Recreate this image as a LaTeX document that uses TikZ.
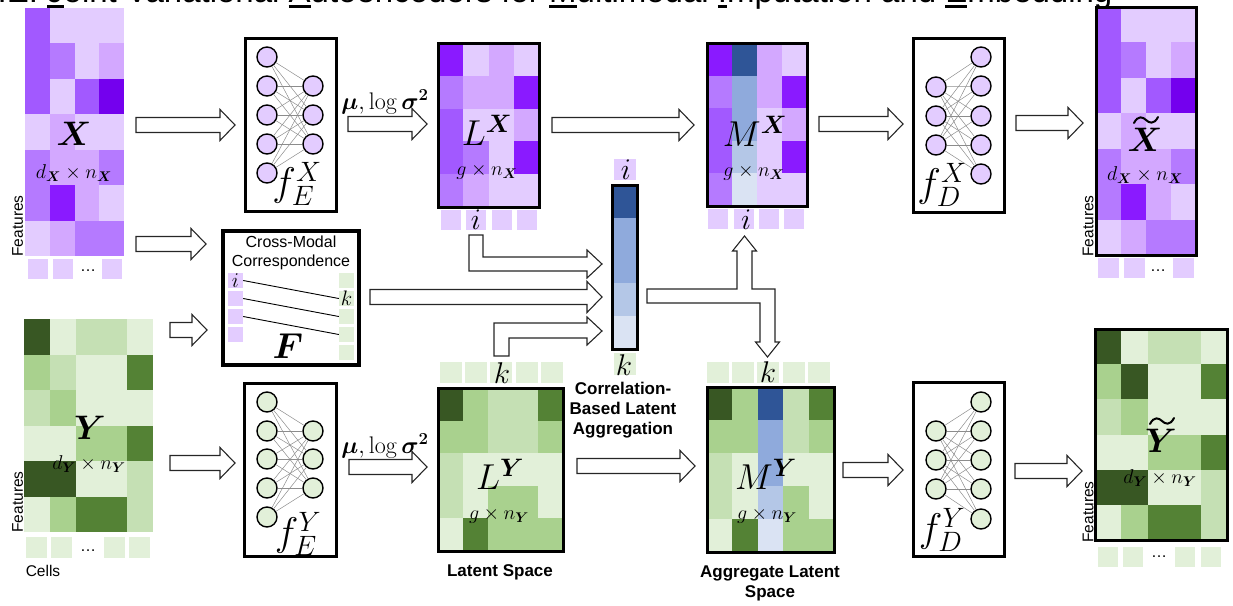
\RequirePackage{fix-cm}
\documentclass[tikz,border=0pt]{standalone}
\usepackage[no-math]{fontspec}
\setmainfont{Liberation Sans}
\usepackage{bm}
\usetikzlibrary{calc}
\definecolor{p1}{HTML}{E3CCFF}
\definecolor{p2}{HTML}{D3A8FF}
\definecolor{p3}{HTML}{B57AFF}
\definecolor{p4}{HTML}{A259FF}
\definecolor{p5}{HTML}{8A1AFF}
\definecolor{p6}{HTML}{7400EE}
\definecolor{g1}{HTML}{E2F0D9}
\definecolor{g2}{HTML}{C5E0B4}
\definecolor{g3}{HTML}{A9D18E}
\definecolor{g4}{HTML}{548235}
\definecolor{g5}{HTML}{385723}
\definecolor{b1}{HTML}{DAE3F3}
\definecolor{b2}{HTML}{B4C7E7}
\definecolor{b3}{HTML}{8FAADC}
\definecolor{b4}{HTML}{2F5597}
\newlength\ulw
\newcommand\myul[1]{\settowidth{\ulw}{#1}\rlap{\rule[-5.5pt]{\ulw}{3pt}}#1}
\newcommand\heatmap[5]{%
  \foreach \row [count=\ri from 0] in {#5} {
    \foreach \cc [count=\ki from 0] in \row {
      \fill[\cc] ({#1+\ki*#3},{#2+\ri*#4}) rectangle ++({#3+0.4},{#4+0.4});
    }
  }}
\newcommand\harrow[3]{\draw[barrow] (#1,{#3-7.5}) -- ({#2-15},{#3-7.5}) -- ({#2-15},{#3-15.5}) -- (#2,#3) -- ({#2-15},{#3+15.5}) -- ({#2-15},{#3+7.5}) -- (#1,{#3+7.5}) -- cycle;}
\newcommand\nnet[6]{%
  \foreach \yy [count=\ii] in {#4} {\node[neuron, fill=#6] (#1a\ii) at (#2,\yy) {};}
  \foreach \yy [count=\jj] in {#5} {\node[neuron, fill=#6] (#1b\jj) at (#3,\yy) {};}
  \foreach \yy [count=\ii] in {#4} {\foreach \zz [count=\jj] in {#5} {\draw[syn] (#1a\ii) -- (#1b\jj);}}
}
\newcommand\tildeat[2]{\draw[line width=2pt, line cap=round] (#1,{#2+7}) .. controls ({#1+4},{#2-1}) and ({#1+9},{#2+1}) .. ({#1+12},{#2+4}) .. controls ({#1+15},{#2+7}) and ({#1+20},{#2+9}) .. ({#1+24},{#2+1});}
\tikzset{
  frame/.style={draw=black, line width=3pt, inner sep=0pt},
  area/.style={inner sep=0pt},
  barrow/.style={draw=black!85, line width=1.1pt, fill=white, line join=miter},
  neuron/.style={circle, draw=black, line width=1.4pt, minimum size=20pt, inner sep=0pt},
  syn/.style={draw=black!45, line width=0.5pt},
  lbl/.style={inner sep=0pt},
  sqp/.style={fill=p1, inner sep=0pt, minimum size=15pt},
  sqg/.style={fill=g1, inner sep=0pt, minimum size=15pt},
  feat/.style={inner sep=0pt, rotate=90, font=\fontsize{15.5}{17}\selectfont},
  bold/.style={inner sep=0pt, align=center, font=\fontsize{17}{20}\selectfont\bfseries},
  dots/.style={inner sep=0pt, anchor=base, font=\fontsize{16}{18}\selectfont},
  idx/.style={inner sep=0pt, font=\fontsize{30}{34}\selectfont},
}
\begin{document}
\begin{tikzpicture}[x=1pt,y=-1pt]
\useasboundingbox (0,0) rectangle (1233,605);
% title (cut off at the top)
\node[anchor=base west, inner sep=0pt, font=\fontsize{33}{38}\selectfont] (title) at (47,2)
  {\llap{JAMIE: }\myul{J}oint Variational \myul{A}utoencoders for \myul{M}ultimodal \myul{I}mputation and \myul{E}mbedding};

% ---------- heatmaps ----------
\heatmap{25}{8}{24.75}{35.43}{{p4,p1,p1,p1},{p4,p3,p1,p2},{p4,p1,p4,p6},{p1,p2,p1,p1},{p3,p2,p2,p3},{p3,p5,p2,p1},{p1,p2,p3,p3}}
\heatmap{1096}{7}{25}{35.43}{{p4,p1,p1,p1},{p4,p3,p1,p2},{p4,p1,p4,p6},{p1,p2,p1,p1},{p3,p2,p2,p3},{p3,p5,p2,p1},{p1,p2,p3,p3}}
\heatmap{24}{319}{25.8}{35.5}{{g5,g1,g2,g2,g1},{g3,g2,g1,g1,g4},{g2,g3,g1,g1,g1},{g1,g1,g3,g3,g4},{g5,g5,g1,g1,g2},{g1,g3,g4,g4,g2}}
\heatmap{1095}{329}{26.4}{35.17}{{g5,g1,g2,g2,g1},{g3,g5,g1,g1,g4},{g2,g3,g1,g1,g1},{g1,g1,g3,g3,g4},{g5,g5,g1,g1,g2},{g1,g3,g4,g4,g2}}
\heatmap{438}{43}{25.25}{32.8}{{p5,p1,p2,p1},{p3,p2,p2,p5},{p4,p1,p1,p2},{p4,p3,p1,p5},{p3,p2,p1,p1}}
\heatmap{707}{43}{25}{32.6}{{p5,b4,p2,p1},{p3,b3,p2,p5},{p4,b3,p1,p2},{p4,b2,p1,p5},{p3,b1,p1,p1}}
\heatmap{438}{388}{25}{32.6}{{g5,g3,g2,g2,g4},{g3,g3,g2,g2,g3},{g2,g1,g1,g1,g1},{g2,g1,g3,g3,g1},{g1,g4,g3,g3,g3}}
\heatmap{707}{387}{25.4}{33}{{g5,g3,b4,g2,g4},{g3,g3,b3,g2,g3},{g2,g1,b3,g1,g1},{g2,g1,b2,g3,g1},{g1,g4,b1,g3,g3}}
\heatmap{612}{185}{25}{32.8}{{b4},{b3},{b3},{b2},{b1}}

% ---------- index squares ----------
\foreach \xx in {28,53,102} \fill[p1] (\xx,259) rectangle ++(20,20);
\foreach \xx in {26,51,104,129} \fill[g1] (\xx,537) rectangle ++(21,21);
\foreach \xx in {1098,1124,1173} \fill[p1] (\xx,258) rectangle ++(21,20);
\foreach \xx in {1098,1123,1175,1201} \fill[g1] (\xx,547) rectangle ++(20,20);
\foreach \xx in {441,466,492,517} \fill[p1] (\xx,210) rectangle ++(20,20);
\foreach \xx in {708,734,759,784} \fill[p1] (\xx,209) rectangle ++(20,20);
\foreach \xx in {440,465,490,516,541} \fill[g1] (\xx,362) rectangle ++(22,21);
\foreach \xx in {707,732,757,783,808} \fill[g1] (\xx,362) rectangle ++(22,21);
\fill[p1] (614,159) rectangle ++(22,21);
\fill[g1] (614,353) rectangle ++(22,22);

% ---------- matrix frames / areas ----------
\node[area, minimum width=99pt, minimum height=248pt] (X) at (74.5,132) {};
\node[area, minimum width=129pt, minimum height=213pt] (Y) at (88.5,425.5) {};
\node[frame, minimum width=101pt, minimum height=164pt] (LX) at (488.5,125) {};
\node[frame, minimum width=100pt, minimum height=163pt] (MX) at (757,124.5) {};
\node[frame, minimum width=125pt, minimum height=163pt] (LY) at (500.5,469.5) {};
\node[frame, minimum width=127pt, minimum height=165pt] (MY) at (770.5,469.5) {};
\node[frame, minimum width=100pt, minimum height=248pt] (Xt) at (1146,131) {};
\node[frame, minimum width=132pt, minimum height=211pt] (Yt) at (1161,434.5) {};
\node[frame, minimum width=25pt, minimum height=164pt] (agg) at (624.5,267) {};

% ---------- networks ----------
\node[frame, minimum width=91pt, minimum height=173pt] (fEX) at (290.5,124.5) {};
\node[frame, minimum width=92pt, minimum height=173pt] (fEY) at (290,469.5) {};
\node[frame, minimum width=91pt, minimum height=174pt] (fDX) at (958.5,125) {};
\node[frame, minimum width=91pt, minimum height=174pt] (fDY) at (958.5,469) {};
\nnet{ex}{267}{313}{57,86,115,144,173}{86,115,144}{p1}
\nnet{ey}{267}{313}{402,431,459,488,517}{431,459,488}{g1}
\nnet{dx}{936}{981}{87,116,145}{57,86,116,145,174}{p1}
\nnet{dy}{936}{981}{431,460,489}{402,431,460,489,519}{g1}
\node[lbl, font=\fontsize{40}{44}\selectfont] (lfex) at (297,184) {$f_E^X$};
\node[lbl, font=\fontsize{40}{44}\selectfont] (lfey) at (298,534) {$f_E^Y$};
\node[lbl, font=\fontsize{40}{44}\selectfont] (lfdx) at (942,185) {$f_D^X$};
\node[lbl, font=\fontsize{40}{44}\selectfont] (lfdy) at (942,530) {$f_D^Y$};

% ---------- cross-modal correspondence ----------
\node[frame, line width=3.5pt, minimum width=136pt, minimum height=134pt] (cm) at (291,298) {};
\node[lbl, align=center, font=\fontsize{16}{19}\selectfont] (cmt) at (291,253) {Cross-Modal\\Correspondence};
\foreach \yy [count=\ii] in {280.5,298.5,316.5,334.5} \node[sqp] (cl\ii) at (235.5,\yy) {};
\foreach \yy [count=\ii] in {280.5,298.5,316.5,334.5,352.5} \node[sqg] (cr\ii) at (346.5,\yy) {};
\foreach \ii/\jj in {1/2,2/3,3/4} \draw[line width=0.9pt] (cl\ii.east) -- (cr\jj.west);
\node[lbl, font=\fontsize{21}{23}\selectfont] at (cl1) {$i$};
\node[lbl, font=\fontsize{21}{23}\selectfont] at (cr2) {$k$};
\node[lbl, font=\fontsize{36}{40}\selectfont] (F) at (288,346) {$\bm{F}$};

% ---------- matrix labels ----------
\node[lbl, font=\fontsize{34}{38}\selectfont] at (74,134) {$\bm{X}$};
\node[lbl, font=\fontsize{20}{22}\selectfont] at (74,173) {$d_{\bm X}\times n_{\bm X}$};
\node[lbl, font=\fontsize{34}{38}\selectfont] at (90,428) {$\bm{Y}$};
\node[lbl, font=\fontsize{20}{22}\selectfont] at (89,464) {$d_{\bm Y}\times n_{\bm Y}$};
\node[lbl, font=\fontsize{34}{38}\selectfont] (Xtl) at (1145,140) {$\bm{X}$};
\tildeat{1134}{116}
\node[lbl, font=\fontsize{20}{22}\selectfont] at (1145,175) {$d_{\bm X}\times n_{\bm X}$};
\node[lbl, font=\fontsize{34}{38}\selectfont] (Ytl) at (1161,441) {$\bm{Y}$};
\tildeat{1150}{417}
\node[lbl, font=\fontsize{20}{22}\selectfont] at (1160,478) {$d_{\bm Y}\times n_{\bm Y}$};
\node[lbl, font=\fontsize{36}{40}\selectfont] at (487,130) {$L^{\bm X}$};
\node[lbl, font=\fontsize{20}{22}\selectfont] at (487,172) {$g\times n_{\bm X}$};
\node[lbl, font=\fontsize{36}{40}\selectfont] at (755,131) {$M^{\bm X}$};
\node[lbl, font=\fontsize{20}{22}\selectfont] at (754,173) {$g\times n_{\bm X}$};
\node[lbl, font=\fontsize{36}{40}\selectfont] at (500,474) {$L^{\bm Y}$};
\node[lbl, font=\fontsize{20}{22}\selectfont] at (499,516) {$g\times n_{\bm Y}$};
\node[lbl, font=\fontsize{36}{40}\selectfont] at (766,474) {$M^{\bm Y}$};
\node[lbl, font=\fontsize{20}{22}\selectfont] at (767,516) {$g\times n_{\bm Y}$};

% index letters
\node[idx] (iLX) at (476,220) {$i$};
\node[idx] (iMX) at (746,220) {$i$};
\node[idx] (iag) at (626,170) {$i$};
\node[idx] (kLY) at (502,373) {$k$};
\node[idx] (kMY) at (768,372) {$k$};
\node[idx] (kag) at (624,365) {$k$};

% dots and axis labels
\node[dots] at (88,271) {…};
\node[dots] at (88,551.5) {…};
\node[dots] at (1158,271) {…};
\node[dots] at (1159,557) {…};
\node[feat] at (17.5,226) {Features};
\node[feat] at (17.5,502) {Features};
\node[feat] at (1088,226) {Features};
\node[feat] at (1088,512) {Features};
\node[lbl, font=\fontsize{15.5}{17}\selectfont] at (43,571) {Cells};

% bold captions
\node[bold] at (623,410) {Correlation-\\Based Latent\\Aggregation};
\node[bold] at (500,572) {Latent Space};
\node[bold] at (770,583) {Aggregate Latent\\Space};

% mu / sigma labels
\node[lbl, font=\fontsize{24}{28}\selectfont] at (385,102) {$\bm{\mu},\log\bm{\sigma}^{\bm 2}$};
\node[lbl, font=\fontsize{24}{28}\selectfont] at (385,446) {$\bm{\mu},\log\bm{\sigma}^{\bm 2}$};

% ---------- block arrows ----------
\harrow{136}{235}{125}
\harrow{348}{427}{124}
\harrow{552}{694}{125}
\harrow{819}{903}{124}
\harrow{1016}{1083}{123}
\harrow{136}{206}{244}
\harrow{170}{207}{330}
\harrow{170}{235}{463}
\harrow{349}{427}{467}
\harrow{577}{695}{466}
\harrow{843}{903}{470}
\harrow{1015}{1082}{471}
\harrow{370}{602}{297}
% elbow from LX index i
\draw[barrow] (469,235) -- (483,235) -- (483,257) -- (587,257) -- (587,250) -- (602,264) -- (587,278) -- (587,271) -- (469,271) -- cycle;
% elbow from LY index k
\draw[barrow] (494,356) -- (509,356) -- (509,338) -- (587,338) -- (587,345) -- (602,331) -- (587,317) -- (587,323) -- (494,323) -- cycle;
% T-shaped arrow to MX and MY
\draw[barrow] (647,289) -- (737,289) -- (737,251) -- (732.5,251) -- (744.5,236) -- (756.5,251) -- (752,251) -- (752,289) -- (775,289) -- (775,342) -- (779.5,342) -- (767.5,357) -- (755.5,342) -- (760,342) -- (760,303) -- (647,303) -- cycle;
\end{tikzpicture}
\end{document}
